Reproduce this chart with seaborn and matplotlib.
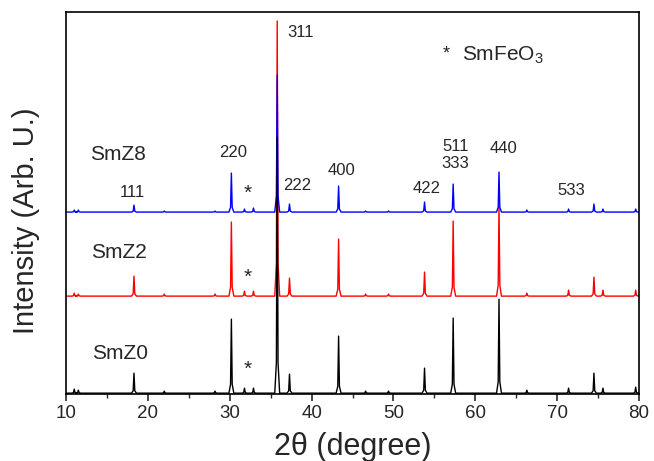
import numpy as np
import pandas as pd
import seaborn as sns
import matplotlib.pyplot as plt
from matplotlib.ticker import MultipleLocator

# XRD data (2theta in degree, intensity in arb. units)
peak_2theta = [11.0, 11.5, 18.3, 22.0, 28.2, 30.2, 31.8, 32.9, 35.8, 37.3, 43.3,
               46.6, 49.4, 53.8, 57.3, 62.9, 66.3, 71.4, 74.5, 75.6, 79.6]
smz0_counts = [4, 3, 20, 2, 2, 74, 5, 5, 256, 19, 57, 2, 2, 25, 75, 94, 3, 5, 20, 5, 6]
smz2_counts = [3, 2, 20, 2, 2, 74, 5, 5, 275, 18, 57, 2, 2, 24, 75, 91, 3, 6, 19, 6, 6]
smz8_counts = [2, 2, 7, 1, 1, 39, 3, 4, 137, 8, 26, 1, 1, 10, 28, 40, 2, 3, 8, 3, 3]
samples = ["SmZ0", "SmZ2", "SmZ8"]

hkl_labels = ["111", "220", "311", "222", "400", "422", "511\n333", "440", "533"]

# vertical stacking of the patterns
stack_offset = {"SmZ0": 1, "SmZ2": 98, "SmZ8": 182}
colors = {"SmZ0": "black", "SmZ2": "red", "SmZ8": "blue"}


def pattern(counts):
    # narrow peaks on a flat baseline
    xs, ys = [10.0], [0.0]
    for p, h in zip(peak_2theta, counts):
        xs += [p - 0.3, p - 0.1, p, p + 0.1, p + 0.3]
        ys += [0, 0.12 * h, h, 0.12 * h, 0]
    xs.append(80.0)
    ys.append(0.0)
    return xs, ys


frames = []
for name, counts in zip(samples, [smz0_counts, smz2_counts, smz8_counts]):
    xs, ys = pattern(counts)
    frames.append(pd.DataFrame({"two_theta": xs,
                                "intensity": np.array(ys) + stack_offset[name],
                                "sample": name}))
df = pd.concat(frames, ignore_index=True)

sns.set_style("ticks")
plt.rcParams["font.family"] = ["Liberation Sans", "DejaVu Sans"]
plt.rcParams["mathtext.fontset"] = "custom"
plt.rcParams["mathtext.rm"] = "Liberation Sans"

fig = plt.figure(figsize=(6.54, 4.61), dpi=100)
ax = fig.add_axes([0.101, 0.145, 0.876, 0.829])

sns.lineplot(data=df, x="two_theta", y="intensity", hue="sample",
             hue_order=["SmZ2", "SmZ8", "SmZ0"], palette=colors,
             estimator=None, sort=False, legend=False, lw=1.0, ax=ax)

ax.set_xlim(10, 80)
ax.set_ylim(0, 382)
ax.set_yticks([])
ax.set_xticks(range(10, 81, 10))
ax.xaxis.set_minor_locator(MultipleLocator(5))
ax.tick_params(axis="x", which="major", direction="out", length=5, width=1.2,
               labelsize=13.5, pad=3)
ax.tick_params(axis="x", which="minor", direction="out", length=3, width=1.0)
for s in ax.spines.values():
    s.set_visible(True)
    s.set_linewidth(1.2)
    s.set_color("black")

ax.set_xlabel("2θ (degree)", fontsize=22, labelpad=7)
ax.set_ylabel("Intensity (Arb. U.)", fontsize=21)
ax.yaxis.set_label_coords(-0.045, 0.455)

# sample names
ax.text(16.4, 240, "SmZ8", fontsize=15, ha="center", va="center")
ax.text(16.4, 142, "SmZ2", fontsize=15, ha="center", va="center")
ax.text(16.6, 41, "SmZ0", fontsize=15, ha="center", va="center")

# Miller indices
hkl_pos = [(18.1, 202), (30.4, 242), (38.6, 361), (38.3, 209), (43.7, 224),
           (54.0, 206), (57.6, 239), (63.4, 246), (71.7, 204)]
for lab, (x, y) in zip(hkl_labels, hkl_pos):
    ax.text(x, y, lab, fontsize=12, ha="center", va="center", linespacing=1.15)

# SmFeO3 impurity marks
for y in [201, 117, 25]:
    ax.text(32.2, y, "*", fontsize=15, ha="center", va="center")
ax.text(56.5, 340, "*", fontsize=13, ha="center", va="center")
ax.text(58.4, 339, "SmFeO$_3$", fontsize=15, ha="left", va="center")

plt.savefig("out.png", dpi=100)
